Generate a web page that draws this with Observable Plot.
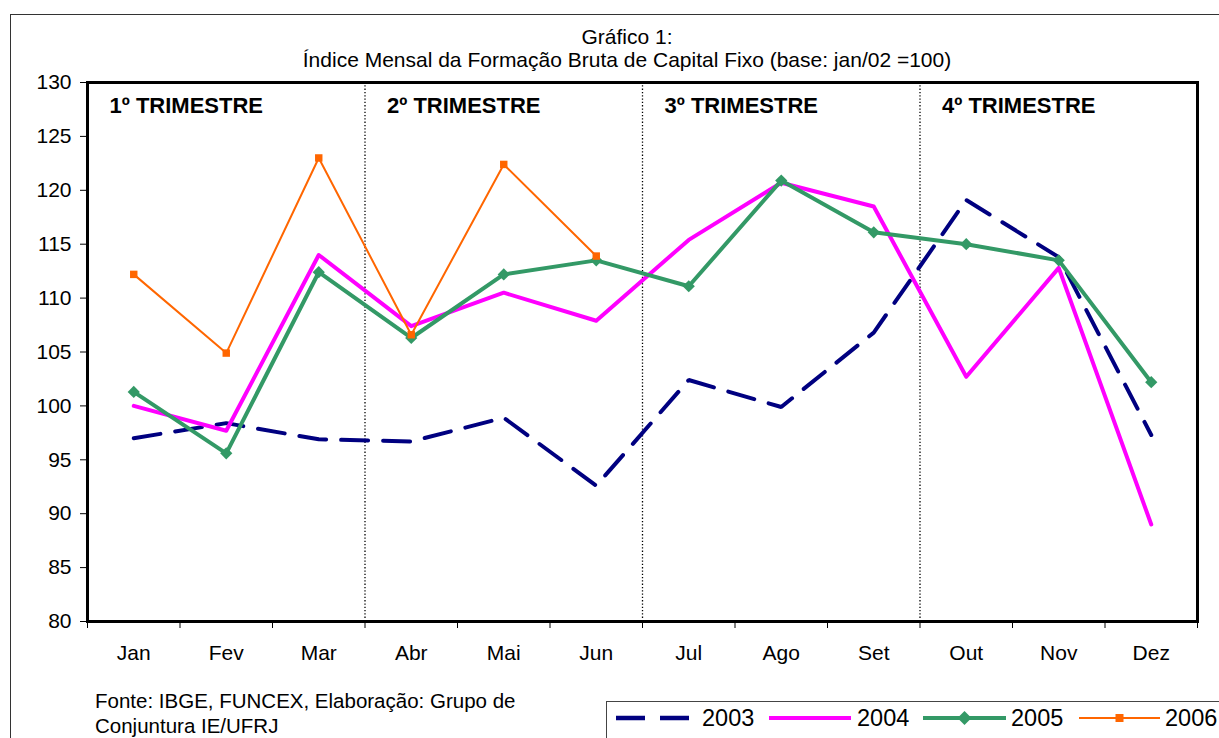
<!DOCTYPE html>
<html><head><meta charset="utf-8">
<script src="https://cdn.jsdelivr.net/npm/d3@7"></script>
<script src="https://cdn.jsdelivr.net/npm/@observablehq/plot@0.6"></script>
<style>
body{margin:0;background:#fff;font-family:"Liberation Sans",Arial,sans-serif;color:#000;}
#wrap{position:relative;width:1219px;height:738px;overflow:hidden;background:#fff;}
#outer{position:absolute;left:10px;top:14px;width:1300px;height:800px;border:1.5px solid #333;box-sizing:border-box;}
.title{position:absolute;left:627px;transform:translateX(-50%);white-space:nowrap;font-size:21px;line-height:24px;}
#chart{position:absolute;left:0;top:0;}
#src{position:absolute;left:95px;top:688px;font-size:20.5px;line-height:25px;white-space:nowrap;}
#legendbox{position:absolute;left:606px;top:701px;width:700px;height:100px;border:1px solid #444;background:#fff;}
#legend{position:absolute;left:606px;top:701px;}
</style></head>
<body>
<div id="wrap">
  <div id="outer"></div>
  <div class="title" style="top:25px">Gráfico 1:</div>
  <div class="title" style="top:48px">Índice Mensal da Formação Bruta de Capital Fixo (base: jan/02 =100)</div>
  <div id="chart"></div>
  <div id="src">Fonte: IBGE, FUNCEX, Elaboração: Grupo de<br>Conjuntura IE/UFRJ</div>
  <div id="legendbox"></div>
  <div id="legend"></div>
</div>
<script>
const months = ["Jan","Fev","Mar","Abr","Mai","Jun","Jul","Ago","Set","Out","Nov","Dez"];
const years = ["2003","2004","2005","2006"];
const v2003 = [97.0, 98.4, 96.9, 96.7, 98.9, 92.6, 102.4, 99.9, 106.8, 119.1, 113.8, 97.3];
const v2004 = [100.0, 97.7, 114.0, 107.4, 110.5, 107.9, 115.4, 120.7, 118.5, 102.7, 112.8, 89.0];
const v2005 = [101.3, 95.6, 112.4, 106.3, 112.2, 113.5, 111.1, 120.9, 116.1, 115.0, 113.5, 102.2];
const v2006 = [112.2, 104.9, 123.0, 106.6, 122.4, 113.9, null, null, null, null, null, null];
const yTicks = [80, 85, 90, 95, 100, 105, 110, 115, 120, 125, 130];
const quarters = ["1º TRIMESTRE","2º TRIMESTRE","3º TRIMESTRE","4º TRIMESTRE"];

const seriesValues = {"2003": v2003, "2004": v2004, "2005": v2005, "2006": v2006};
const colors = {"2003":"#000080","2004":"#FF00FF","2005":"#339966","2006":"#FF6600"};

const table = years.flatMap(y => seriesValues[y].map((v, i) => ({year: y, m: i + 1, value: v})));
const rows = y => table.filter(d => d.year === y && d.value != null);

const bounds = months.map((m, i) => i + 0.5).concat([months.length + 0.5]);
const quarterStarts = quarters.map((q, i) => ({q, x: i * 3 + 0.5}));
const dividers = [3.5, 6.5, 9.5];

const font = "Liberation Sans, Arial, sans-serif";

const chart = Plot.plot({
  width: 1219,
  height: 672,
  marginLeft: 87,
  marginRight: 22,
  marginTop: 82,
  marginBottom: 51,
  style: {fontFamily: font, fontSize: "21px", color: "#000", background: "transparent"},
  x: {domain: [0.5, 12.5], axis: null},
  y: {domain: [80, 130], axis: null},
  marks: [
    Plot.ruleX(dividers, {stroke: "#000", strokeWidth: 1.3, strokeDasharray: "1.3,2"}),
    Plot.axisY({ticks: yTicks, label: null, tickSize: 7, tickPadding: 9, fontSize: 21, stroke: "#000", strokeOpacity: 1}),
    Plot.axisX({ticks: bounds, label: null, tickSize: 7, tickFormat: () => "", stroke: "#000", strokeOpacity: 1}),
    Plot.axisX({ticks: months.map((m, i) => i + 1), label: null, tickSize: 0, tickPadding: 24, fontSize: 21, tickFormat: i => months[i - 1]}),
    Plot.line(rows("2003"), {x: "m", y: "value", stroke: colors["2003"], strokeWidth: 4, strokeDasharray: "27,15", strokeLinejoin: "miter"}),
    Plot.line(rows("2004"), {x: "m", y: "value", stroke: colors["2004"], strokeWidth: 4}),
    Plot.line(rows("2005"), {x: "m", y: "value", stroke: colors["2005"], strokeWidth: 4}),
    Plot.dot(rows("2005"), {x: "m", y: "value", symbol: "diamond2", r: 5.5, fill: colors["2005"]}),
    Plot.line(rows("2006"), {x: "m", y: "value", stroke: colors["2006"], strokeWidth: 2}),
    Plot.dot(rows("2006"), {x: "m", y: "value", symbol: "square", r: 4.2, fill: colors["2006"]}),
    Plot.frame({stroke: "#000", strokeWidth: 3}),
    Plot.text(quarterStarts, {x: "x", text: "q", frameAnchor: "top", dy: 15, dx: 22, textAnchor: "start", fontWeight: "bold", fontSize: 22, fill: "#000"})
  ]
});
document.getElementById("chart").appendChild(chart);

// legend
const lg = d3.select("#legend").append("svg").attr("width", 613).attr("height", 37)
  .style("font-family", font);
const items = [
  {y: "2003", x0: 10, x1: 83, tx: 96, dash: "29,15", w: 4.5, sym: null},
  {y: "2004", x0: 163, x1: 245, tx: 251, dash: null, w: 4, sym: null},
  {y: "2005", x0: 317, x1: 400, tx: 405, dash: null, w: 4, sym: "diamond"},
  {y: "2006", x0: 473, x1: 554, tx: 559, dash: null, w: 2, sym: "square"}
];
const cy = 17;
items.forEach(it => {
  lg.append("line").attr("x1", it.x0).attr("x2", it.x1).attr("y1", cy).attr("y2", cy)
    .attr("stroke", colors[it.y]).attr("stroke-width", it.w)
    .attr("stroke-dasharray", it.dash);
  const mx = (it.x0 + it.x1) / 2;
  if (it.sym === "diamond") {
    lg.append("path").attr("d", `M${mx},${cy-7}L${mx+7},${cy}L${mx},${cy+7}L${mx-7},${cy}Z`).attr("fill", colors[it.y]);
  } else if (it.sym === "square") {
    lg.append("rect").attr("x", mx - 4).attr("y", cy - 4).attr("width", 8).attr("height", 8).attr("fill", colors[it.y]);
  }
  lg.append("text").attr("x", it.tx).attr("y", cy).attr("dy", "0.35em")
    .attr("font-size", 23.5).attr("fill", "#000").text(it.y);
});
</script>
</body></html>
